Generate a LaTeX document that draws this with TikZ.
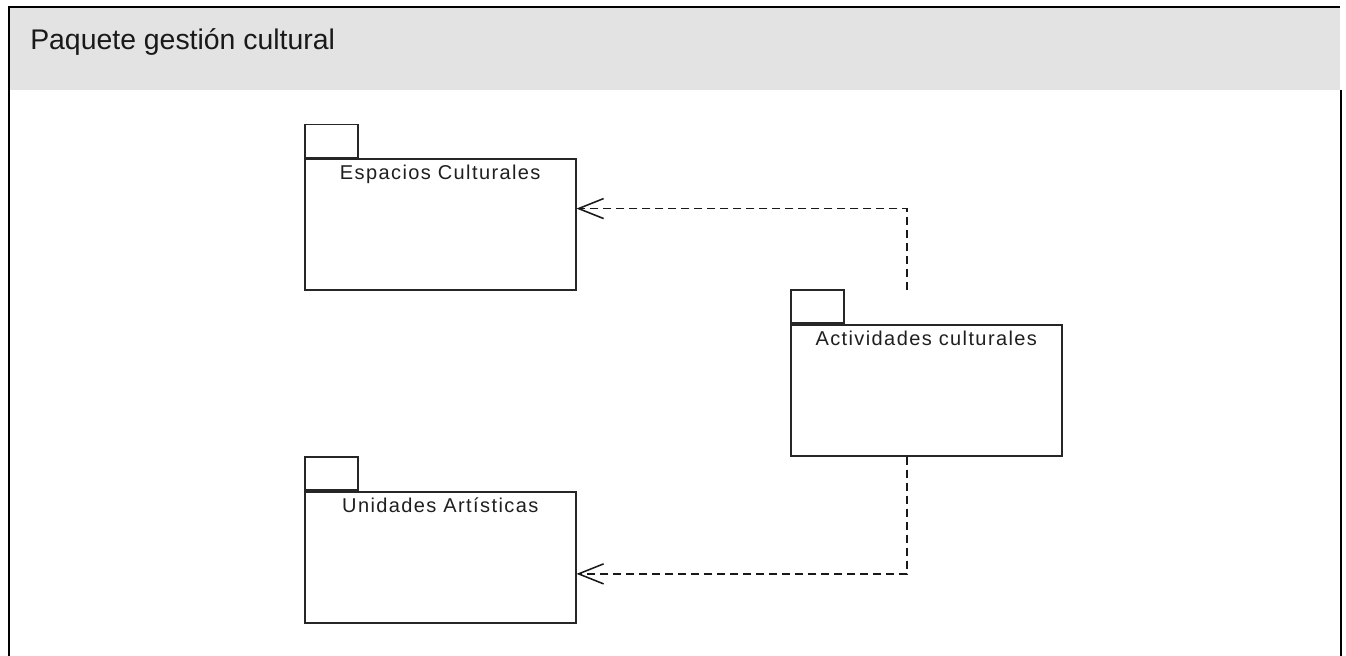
\documentclass[tikz,border=0pt]{standalone}
\usepackage{fontspec}
\setmainfont{Liberation Sans}
\newfontfamily\pkgfont[LetterSpace=7]{Liberation Sans}
\usetikzlibrary{arrows.meta,calc}
\definecolor{headgray}{HTML}{E3E3E3}

\begin{document}
\begin{tikzpicture}[x=0.75pt,y=-0.75pt,
  frameline/.style={line width=1.5pt, black},
  pkgbody/.style={draw=black!85, line width=1.15pt, rectangle, minimum width=203.25pt,
    minimum height=98.25pt, anchor=north west, inner sep=0pt, fill=white},
  pkgtab/.style={draw=black!85, line width=1.15pt, rectangle, minimum width=39.75pt,
    minimum height=24.75pt, anchor=south west, inner sep=0pt},
  pkglabel/.style={anchor=base, inner sep=0pt,
    font=\pkgfont\fontsize{15}{17}\selectfont, text=black!88},
  depend/.style={draw=black!90, line width=1.15pt, dash pattern=on 6pt off 3.75pt,
    -{Straight Barb[length=18.75pt,width=15pt]}}
]
\useasboundingbox (0,0) rectangle (1346,656);
\fill[white] (0,0) rectangle (1346,656);

% frame with its grey heading
\fill[headgray] (10,8) rectangle (1340,90);
\draw[frameline] (9,656) -- (9,7.5) -- (1340,7.5);
\draw[frameline] (1341,90) -- (1341,656);
\node[anchor=base west, inner sep=0pt, font=\fontsize{21.3}{25}\selectfont,
  text=black!90] (title) at (30,50) {Paquete gestión cultural};

% packages
\node[pkgbody] (esp) at (304,158.3) {};
\node[pkgtab] (esptab) at (esp.north west) {};
\node[pkglabel] (esplbl) at ($(esp.north)+(0,21)$) {Espacios Culturales};

\node[pkgbody] (act) at (790,324) {};
\node[pkgtab] (acttab) at (act.north west) {};
\node[pkglabel] (actlbl) at ($(act.north)+(0,21)$) {Actividades culturales};

\node[pkgbody] (uni) at (304,491) {};
\node[pkgtab] (unitab) at (uni.north west) {};
\node[pkglabel] (unilbl) at ($(uni.north)+(0,21)$) {Unidades Artísticas};

% dependencies
\coordinate (actup) at ($(act.north west)+(117,-34)$);
\coordinate (actdown) at ($(act.south west)+(117,0)$);
\draw[depend] (actup) |- ($(esp.east)+(0,-16)$);
\draw[depend] (actdown) |- ($(uni.east)+(0,16.6)$);
\end{tikzpicture}
\end{document}
